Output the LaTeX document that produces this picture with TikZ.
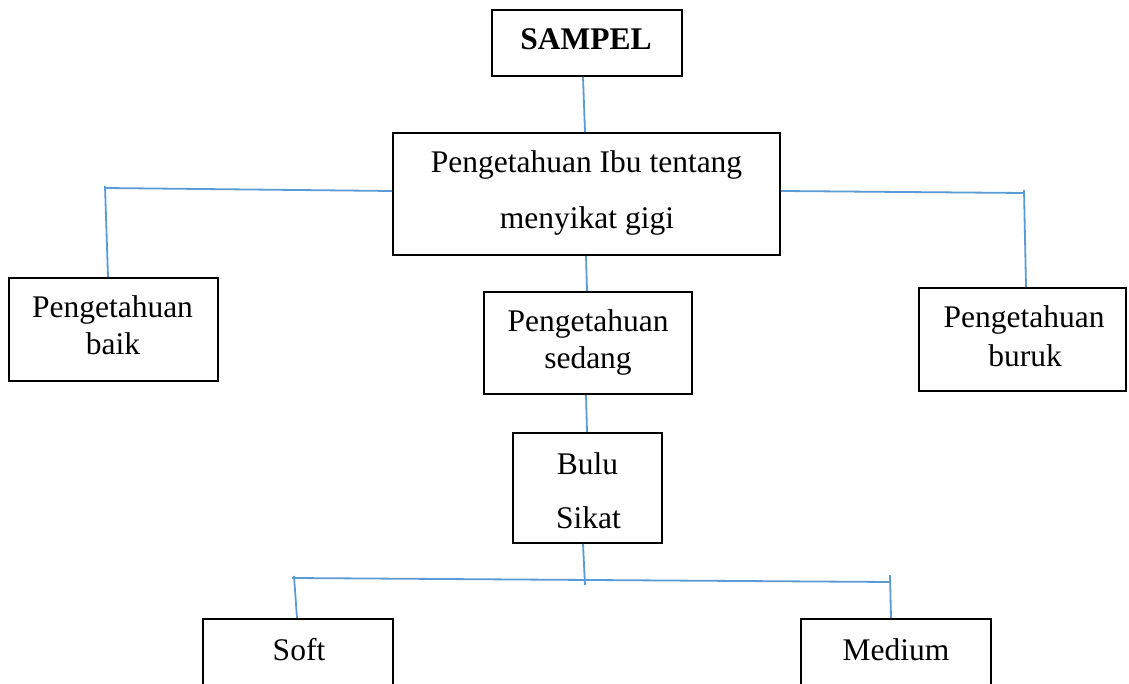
\documentclass[tikz,border=0pt]{standalone}
\usepackage{fontspec}
\setmainfont{Liberation Serif}
\begin{document}
\begin{tikzpicture}[x=1pt,y=-1pt,
  box/.style={draw=black, line width=2pt, rectangle, inner sep=0pt},
  txt/.style={anchor=base, inner sep=0pt, font=\fontsize{31.5}{38}\selectfont},
  conn/.style={draw={rgb,255:red,91;green,155;blue,213}, line width=1.8pt}]
\clip (0,0) rectangle (1129,684);
\fill[white] (0,0) rectangle (1129,684);
% boxes
\node[box, minimum width=190pt, minimum height=66pt] (sampel) at (587,43) {};
\node[box, minimum width=387pt, minimum height=122pt] (ibu) at (586.5,194) {};
\node[box, minimum width=209pt, minimum height=103pt] (baik) at (113.5,329.5) {};
\node[box, minimum width=208pt, minimum height=102pt] (sedang) at (588,343) {};
\node[box, minimum width=207pt, minimum height=103pt] (buruk) at (1022.5,339.5) {};
\node[box, minimum width=149pt, minimum height=110pt] (bulu) at (587.5,488) {};
\node[box, minimum width=190pt, minimum height=82pt] (soft) at (298,660) {};
\node[box, minimum width=190pt, minimum height=82pt] (medium) at (896,660) {};
% texts
\node[txt, font=\fontsize{31.5}{38}\selectfont\bfseries] (tsampel) at (586,50) {SAMPEL};
\node[txt] (tibu1) at (586.5,173) {Pengetahuan Ibu tentang};
\node[txt] (tibu2) at (587,229) {menyikat gigi};
\node[txt] (tbaik1) at (112.5,318) {Pengetahuan};
\node[txt] (tbaik2) at (113,355) {baik};
\node[txt] (tsedang1) at (588,331.5) {Pengetahuan};
\node[txt] (tsedang2) at (588,368) {sedang};
\node[txt] (tburuk1) at (1024,327.5) {Pengetahuan};
\node[txt] (tburuk2) at (1025,366.5) {buruk};
\node[txt] (tbulu1) at (587.5,474) {Bulu};
\node[txt] (tbulu2) at (588.5,528) {Sikat};
\node[txt] (tsoft) at (299,660) {Soft};
\node[txt] (tmedium) at (896,660) {Medium};
% junctions
\coordinate (jl) at (105,188);
\coordinate (jlt) at (105,186);
\coordinate (jr) at (1024,193);
\coordinate (jrt) at (1024,190);
\coordinate (bl) at (292,578);
\coordinate (blt) at (294,576);
\coordinate (br) at (890,582);
\coordinate (brt) at (890,575);
\coordinate (bm) at (585,585);
% connectors
\draw[conn] ([xshift=-4pt]sampel.south) -- ([xshift=-1.5pt]ibu.north);
\draw[conn] ([xshift=-0.5pt]ibu.south) -- ([xshift=-1pt]sedang.north);
\draw[conn] ([xshift=-2pt]sedang.south) -- ([xshift=-0.5pt]bulu.north);
\draw[conn] ([xshift=-4.5pt]bulu.south) -- (bm);
\draw[conn] ([yshift=3pt]ibu.west) -- (jl);
\draw[conn] (jlt) -- ([xshift=-5.5pt]baik.north);
\draw[conn] ([yshift=3pt]ibu.east) -- (jr);
\draw[conn] (jrt) -- ([xshift=3.5pt]buruk.north);
\draw[conn] (bl) -- (br);
\draw[conn] (blt) -- ([xshift=-1pt]soft.north);
\draw[conn] (brt) -- ([xshift=-5pt]medium.north);
\end{tikzpicture}
\end{document}
